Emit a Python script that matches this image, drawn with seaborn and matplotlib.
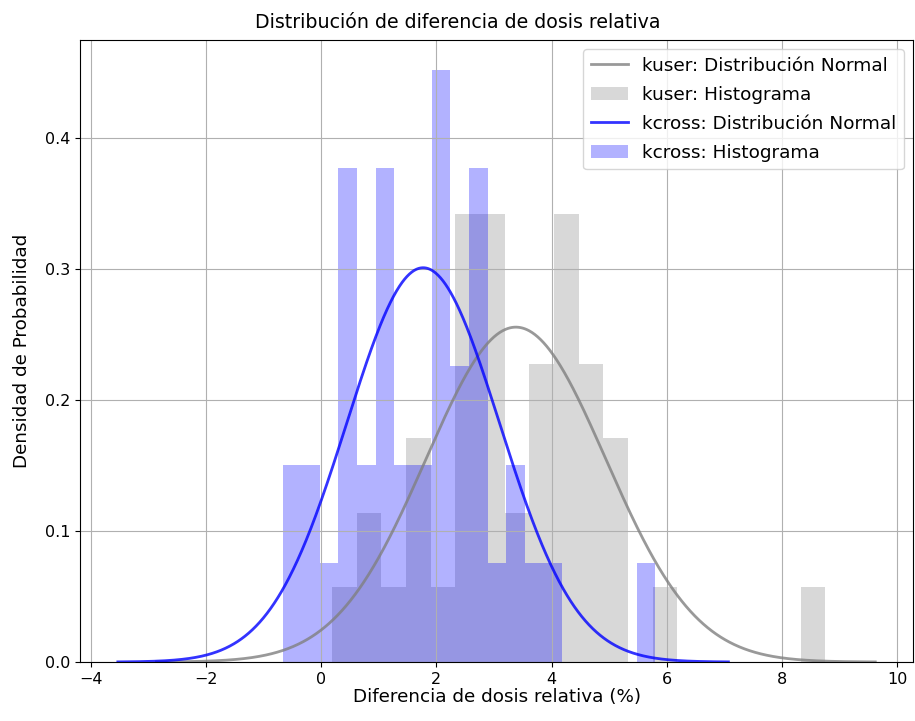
import numpy as np
import matplotlib
matplotlib.use("Agg")
import matplotlib.pyplot as plt
import seaborn as sns

# Histogram counts per bin (20 equal bins over each series' range)
kuser_range = (0.19, 8.75)
kuser_counts = [1, 2, 1, 3, 1, 6, 6, 2, 4, 6, 4, 3, 0, 1, 0, 0, 0, 0, 0, 1]

kcross_range = (-0.67, 5.80)
kcross_counts = [2, 2, 1, 5, 2, 5, 2, 2, 6, 3, 5, 1, 2, 1, 1, 0, 0, 0, 0, 1]

# Fitted normal parameters
kuser_mean, kuser_std = 3.38, 1.56
kcross_mean, kcross_std = 1.77, 1.325

n_bins = 20


def bin_centers(rng, n):
    edges = np.linspace(rng[0], rng[1], n + 1)
    return (edges[:-1] + edges[1:]) / 2


def normal_pdf(x, mu, sd):
    return np.exp(-0.5 * ((x - mu) / sd) ** 2) / (sd * np.sqrt(2 * np.pi))


plt.style.use("default")
fig, ax = plt.subplots(figsize=(9.15, 7.21), dpi=100)
fig.subplots_adjust(left=0.0874, right=0.998, bottom=0.0818, top=0.9445)

handles = []
series = [
    ("kuser", kuser_range, kuser_counts, kuser_mean, kuser_std, "gray"),
    ("kcross", kcross_range, kcross_counts, kcross_mean, kcross_std, "blue"),
]
for name, rng, counts, mu, sd, col in series:
    xs = np.linspace(mu - 4 * sd, mu + 4 * sd, 1000)
    line, = ax.plot(xs, normal_pdf(xs, mu, sd), color=col, alpha=0.8,
                    linewidth=2, label=f"{name}: Distribución Normal")
    n_before = len(ax.containers)
    sns.histplot(x=bin_centers(rng, n_bins), weights=counts, bins=n_bins,
                 binrange=rng, stat="density", color=col, alpha=0.3,
                 linewidth=0, edgecolor="none", ax=ax,
                 label=f"{name}: Histograma")
    bars = ax.containers[n_before]
    handles += [line, bars]

fig.suptitle("Distribución de diferencia de dosis relativa", fontsize=13.7,
             y=0.982)
ax.set_xlabel("Diferencia de dosis relativa (%)", fontsize=13.2, labelpad=1)
ax.set_ylabel("Densidad de Probabilidad", fontsize=13.2, labelpad=10)
ax.tick_params(labelsize=11.5)
ax.grid(True)
ax.legend(handles=handles,
          labels=[h.get_label() for h in handles],
          loc="upper right", fontsize=13.3, labelspacing=0.6)

fig.savefig("out.png", dpi=100)
